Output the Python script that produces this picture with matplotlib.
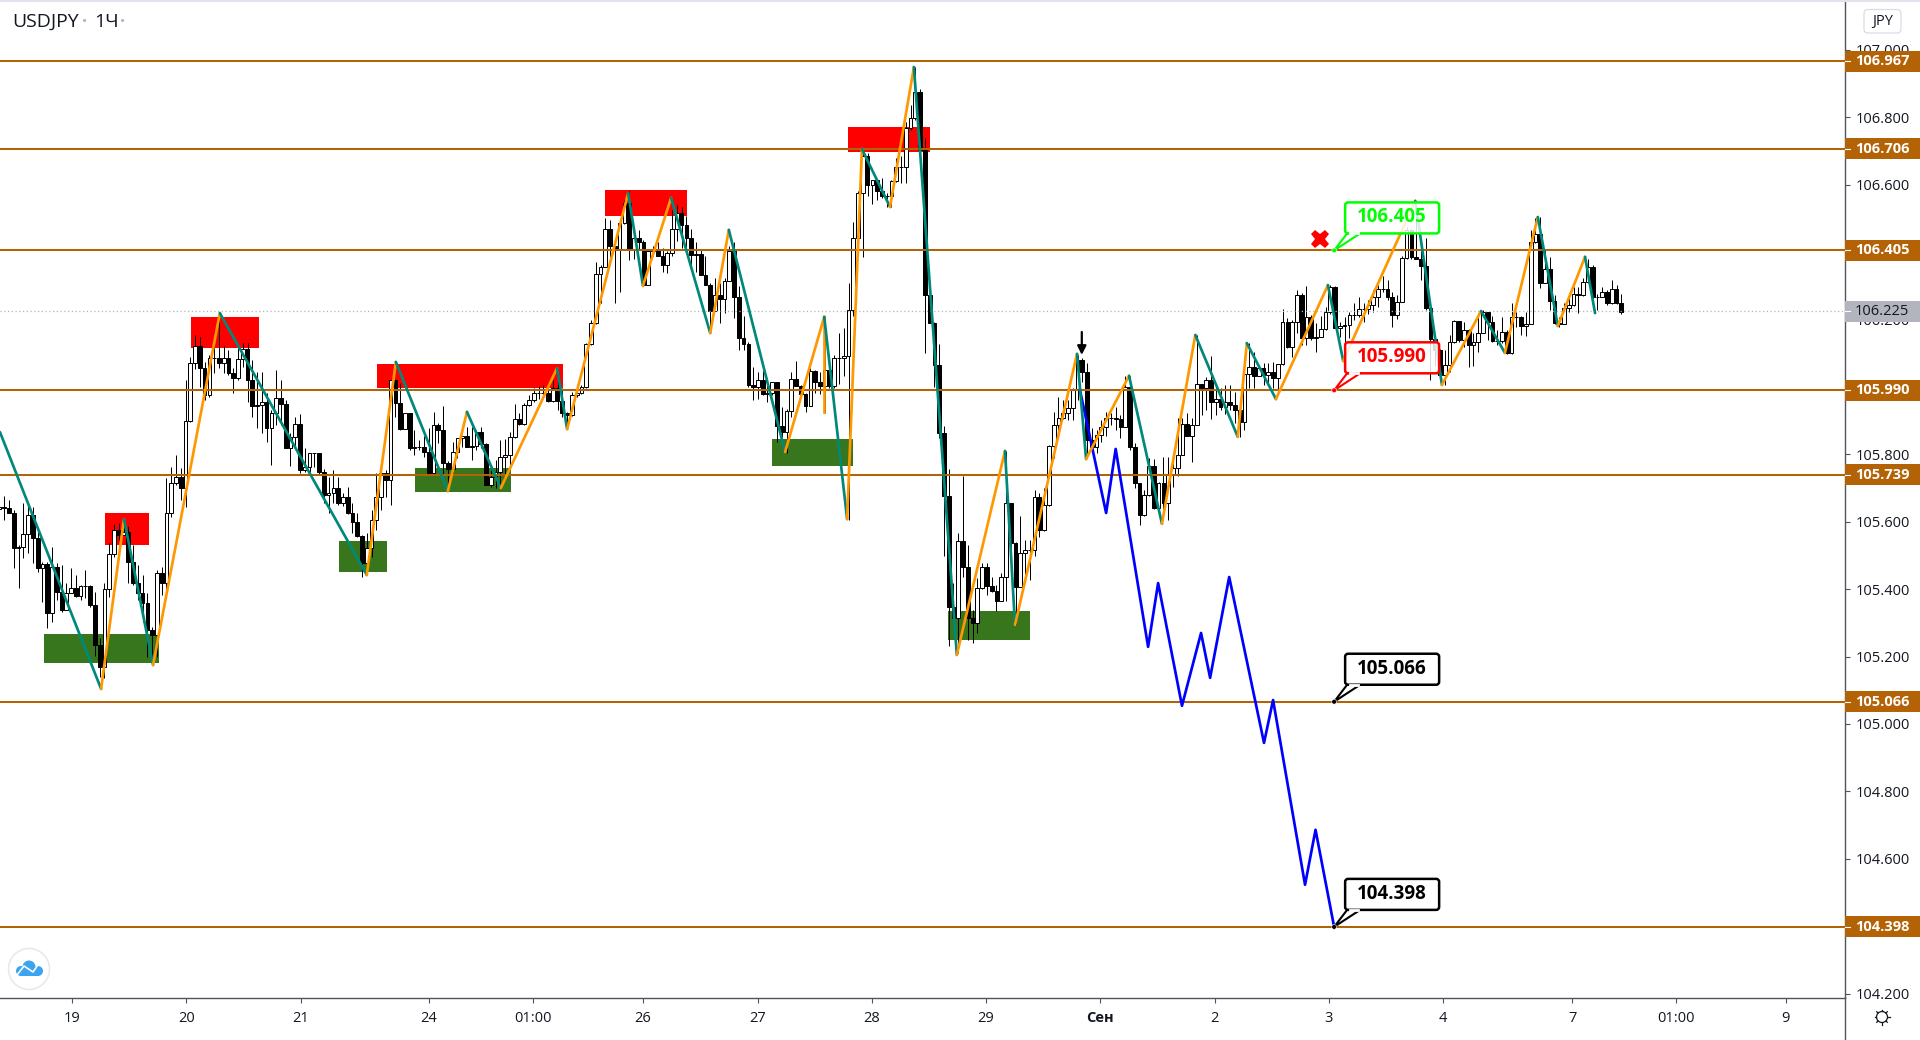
"""USDJPY 1H chart with zigzag, supply/demand zones and a projected path."""
import matplotlib
matplotlib.use('Agg')
import matplotlib.pyplot as plt
from matplotlib.patches import Circle, FancyBboxPatch, Polygon, Rectangle

plt.rcParams['font.family'] = ['Open Sans', 'DejaVu Sans']

# Candles (hourly); each open is the previous close
first_open = 105.637
first_bar = -15.2
closes = [
    105.645, 105.640, 105.625, 105.523, 105.526, 105.563, 105.620, 105.551, 105.464, 105.474,
    105.330, 105.467, 105.393, 105.338, 105.388, 105.403, 105.381, 105.409, 105.408, 105.353,
    105.234, 105.170, 105.400, 105.504, 105.576, 105.561, 105.571, 105.482, 105.417, 105.388,
    105.358, 105.279, 105.264, 105.447, 105.417, 105.625, 105.714, 105.732, 105.701, 105.900,
    106.070, 106.120, 106.055, 105.976, 106.085, 106.085, 106.070, 106.085, 106.040, 106.026,
    106.082, 106.112, 106.021, 105.942, 105.945, 105.954, 105.877, 105.922, 105.966, 105.949,
    105.820, 105.851, 105.889, 105.754, 105.763, 105.803, 105.803, 105.749, 105.679, 105.684,
    105.699, 105.657, 105.673, 105.625, 105.600, 105.558, 105.477, 105.521, 105.605, 105.674,
    105.744, 105.724, 106.021, 105.951, 105.875, 105.922, 105.818, 105.823, 105.823, 105.808,
    105.744, 105.887, 105.872, 105.773, 105.756, 105.808, 105.848, 105.855, 105.823, 105.826,
    105.865, 105.831, 105.709, 105.734, 105.749, 105.791, 105.798, 105.851, 105.904, 105.890,
    105.946, 105.961, 105.981, 105.983, 105.983, 105.959, 105.996, 105.959, 105.922, 105.917,
    105.976, 105.983, 105.999, 106.126, 106.189, 106.335, 106.357, 106.468, 106.419, 106.407,
    106.486, 106.545, 106.409, 106.441, 106.431, 106.303, 106.402, 106.407, 106.389, 106.362,
    106.397, 106.468, 106.515, 106.481, 106.441, 106.392, 106.393, 106.332, 106.303, 106.224,
    106.273, 106.261, 106.315, 106.402, 106.268, 106.145, 106.128, 106.006, 105.999, 106.021,
    105.979, 105.981, 106.014, 105.884, 105.867, 105.929, 106.023, 106.003, 105.979, 105.942,
    106.047, 106.016, 106.003, 106.050, 106.003, 106.085, 106.085, 106.092, 106.228, 106.441,
    106.575, 106.684, 106.599, 106.614, 106.580, 106.565, 106.565, 106.611, 106.654, 106.654,
    106.768, 106.797, 106.876, 106.703, 106.273, 106.189, 106.065, 105.863, 105.675, 105.348,
    105.314, 105.543, 105.467, 105.314, 105.299, 105.403, 105.465, 105.408, 105.396, 105.366,
    105.436, 105.655, 105.538, 105.406, 105.507, 105.515, 105.515, 105.673, 105.576, 105.650,
    105.825, 105.886, 105.907, 105.922, 105.937, 105.991, 106.080, 106.045, 105.843, 105.823,
    105.857, 105.882, 105.907, 105.909, 105.905, 105.882, 106.001, 105.823, 105.714, 105.620,
    105.678, 105.766, 105.640, 105.714, 105.655, 105.739, 105.759, 105.798, 105.889, 105.855,
    105.887, 106.008, 105.996, 106.021, 105.956, 105.963, 105.940, 105.956, 105.946, 105.932,
    105.897, 106.037, 106.060, 106.033, 106.057, 106.035, 106.045, 106.026, 106.067, 106.194,
    106.118, 106.192, 106.273, 106.144, 106.207, 106.144, 106.147, 106.171, 106.223, 106.297,
    106.176, 106.180, 106.183, 106.213, 106.213, 106.231, 106.230, 106.243, 106.266, 106.292,
    106.292, 106.268, 106.213, 106.253, 106.383, 106.465, 106.386, 106.381, 106.358, 106.233,
    106.142, 106.109, 106.035, 106.065, 106.134, 106.195, 106.139, 106.169, 106.124, 106.134,
    106.159, 106.223, 106.193, 106.137, 106.137, 106.164, 106.102, 106.206, 106.208, 106.180,
    106.188, 106.429, 106.455, 106.309, 106.349, 106.256, 106.191, 106.188, 106.233, 106.243,
    106.277, 106.272, 106.312, 106.357, 106.268, 106.268, 106.282, 106.248, 106.292, 106.250,
    106.223,
]
highs = [
    105.679, 105.677, 105.665, 105.635, 105.531, 105.657, 105.660, 105.643, 105.571, 105.482,
    105.482, 105.524, 105.477, 105.472, 105.417, 105.462, 105.442, 105.412, 105.457, 105.412,
    105.393, 105.254, 105.417, 105.536, 105.593, 105.595, 105.605, 105.586, 105.531, 105.472,
    105.442, 105.388, 105.289, 105.457, 105.467, 105.729, 105.763, 105.798, 105.759, 106.021,
    106.090, 106.154, 106.149, 106.075, 106.095, 106.129, 106.218, 106.120, 106.110, 106.055,
    106.115, 106.131, 106.129, 106.080, 106.045, 106.045, 105.981, 105.932, 106.050, 106.021,
    105.961, 105.862, 105.912, 105.920, 105.818, 105.803, 105.805, 105.803, 105.757, 105.734,
    105.754, 105.734, 105.684, 105.702, 105.655, 105.625, 105.561, 105.566, 105.635, 105.744,
    105.754, 105.754, 106.021, 106.021, 106.011, 105.922, 105.877, 105.872, 105.843, 105.853,
    105.877, 105.927, 105.892, 105.942, 105.780, 105.838, 105.848, 105.855, 105.882, 105.882,
    105.872, 105.882, 105.833, 105.754, 105.783, 105.843, 105.845, 105.867, 105.949, 105.922,
    105.951, 105.976, 105.996, 106.003, 106.006, 106.011, 106.021, 106.045, 105.996, 105.927,
    105.986, 106.001, 106.006, 106.129, 106.199, 106.372, 106.362, 106.501, 106.496, 106.417,
    106.491, 106.555, 106.580, 106.466, 106.466, 106.436, 106.407, 106.417, 106.431, 106.412,
    106.402, 106.525, 106.540, 106.535, 106.506, 106.468, 106.431, 106.407, 106.389, 106.308,
    106.323, 106.308, 106.323, 106.417, 106.431, 106.300, 106.209, 106.134, 106.060, 106.045,
    106.048, 106.006, 106.016, 106.016, 105.940, 105.935, 106.045, 106.077, 106.006, 105.981,
    106.055, 106.050, 106.045, 106.209, 106.055, 106.095, 106.159, 106.174, 106.308, 106.489,
    106.580, 106.706, 106.693, 106.614, 106.604, 106.619, 106.575, 106.614, 106.679, 106.684,
    106.787, 106.837, 106.949, 106.883, 106.738, 106.275, 106.192, 106.127, 105.883, 105.756,
    105.418, 105.566, 105.736, 105.531, 105.339, 105.433, 105.477, 105.477, 105.437, 105.413,
    105.447, 105.810, 105.655, 105.539, 105.616, 105.546, 105.546, 105.695, 105.685, 105.700,
    105.828, 105.925, 105.970, 105.962, 105.962, 105.996, 106.095, 106.085, 106.072, 105.877,
    105.872, 105.902, 105.927, 105.922, 105.941, 105.917, 106.031, 106.031, 105.833, 105.714,
    105.695, 105.789, 105.786, 105.719, 105.793, 105.793, 105.798, 105.907, 105.907, 105.922,
    105.907, 106.154, 106.006, 106.029, 106.092, 106.001, 105.996, 106.006, 106.006, 105.986,
    105.944, 106.055, 106.129, 106.105, 106.065, 106.070, 106.072, 106.075, 106.067, 106.230,
    106.204, 106.199, 106.288, 106.278, 106.300, 106.213, 106.189, 106.209, 106.238, 106.302,
    106.299, 106.193, 106.208, 106.223, 106.248, 106.266, 106.248, 106.258, 106.287, 106.302,
    106.329, 106.317, 106.282, 106.272, 106.388, 106.475, 106.470, 106.549, 106.436, 106.441,
    106.248, 106.149, 106.114, 106.109, 106.154, 106.198, 106.196, 106.193, 106.171, 106.159,
    106.218, 106.228, 106.223, 106.210, 106.169, 106.208, 106.169, 106.248, 106.223, 106.210,
    106.223, 106.465, 106.500, 106.505, 106.406, 106.386, 106.272, 106.208, 106.248, 106.263,
    106.297, 106.297, 106.322, 106.381, 106.361, 106.276, 106.297, 106.287, 106.317, 106.302,
    106.277,
]
lows = [
    105.569, 105.605, 105.625, 105.462, 105.403, 105.492, 105.506, 105.477, 105.452, 105.363,
    105.284, 105.304, 105.368, 105.333, 105.338, 105.398, 105.378, 105.368, 105.373, 105.348,
    105.202, 105.140, 105.135, 105.378, 105.496, 105.546, 105.561, 105.417, 105.412, 105.368,
    105.304, 105.200, 105.175, 105.200, 105.383, 105.383, 105.615, 105.709, 105.665, 105.645,
    105.897, 106.053, 106.001, 105.961, 105.969, 106.040, 106.055, 106.042, 106.035, 105.981,
    106.021, 106.060, 105.956, 105.912, 105.879, 105.862, 105.838, 105.768, 105.887, 105.887,
    105.818, 105.766, 105.818, 105.744, 105.749, 105.749, 105.763, 105.739, 105.655, 105.625,
    105.655, 105.650, 105.648, 105.622, 105.566, 105.556, 105.437, 105.442, 105.494, 105.576,
    105.635, 105.674, 105.650, 105.912, 105.872, 105.877, 105.813, 105.798, 105.813, 105.793,
    105.744, 105.744, 105.833, 105.739, 105.694, 105.744, 105.788, 105.823, 105.823, 105.783,
    105.813, 105.818, 105.709, 105.704, 105.699, 105.704, 105.724, 105.754, 105.848, 105.887,
    105.887, 105.942, 105.956, 105.963, 105.976, 105.956, 105.956, 105.932, 105.912, 105.877,
    105.915, 105.971, 105.979, 105.996, 106.124, 106.187, 106.248, 106.357, 106.385, 106.250,
    106.283, 106.484, 106.377, 106.379, 106.407, 106.298, 106.339, 106.387, 106.387, 106.342,
    106.339, 106.389, 106.434, 106.412, 106.407, 106.362, 106.342, 106.332, 106.303, 106.159,
    106.224, 106.189, 106.219, 106.313, 106.204, 106.110, 106.110, 105.999, 105.961, 105.963,
    105.976, 105.956, 105.976, 105.838, 105.838, 105.803, 105.912, 106.003, 105.966, 105.927,
    105.942, 105.983, 105.979, 105.924, 105.996, 105.996, 106.009, 106.033, 105.605, 106.209,
    106.412, 106.385, 106.567, 106.543, 106.555, 106.560, 106.535, 106.533, 106.609, 106.604,
    106.604, 106.763, 106.792, 106.698, 106.100, 106.189, 106.001, 105.848, 105.497, 105.230,
    105.314, 105.210, 105.437, 105.250, 105.240, 105.271, 105.400, 105.383, 105.393, 105.334,
    105.366, 105.366, 105.433, 105.294, 105.406, 105.428, 105.428, 105.497, 105.556, 105.574,
    105.647, 105.789, 105.873, 105.904, 105.902, 105.902, 105.961, 106.016, 105.803, 105.818,
    105.803, 105.838, 105.854, 105.887, 105.872, 105.848, 105.882, 105.813, 105.700, 105.591,
    105.616, 105.677, 105.637, 105.625, 105.606, 105.606, 105.703, 105.737, 105.801, 105.853,
    105.778, 105.887, 105.917, 105.932, 105.905, 105.917, 105.932, 105.920, 105.932, 105.892,
    105.851, 105.872, 105.996, 105.996, 106.031, 106.006, 106.006, 105.996, 105.976, 106.065,
    106.115, 106.088, 106.159, 106.124, 106.124, 106.139, 106.105, 106.169, 106.169, 106.216,
    106.174, 106.149, 106.080, 106.144, 106.198, 106.206, 106.193, 106.216, 106.223, 106.238,
    106.282, 106.258, 106.178, 106.203, 106.253, 106.381, 106.381, 106.379, 106.317, 106.228,
    106.020, 106.062, 106.030, 106.005, 106.045, 106.129, 106.134, 106.119, 106.058, 106.063,
    106.104, 106.177, 106.139, 106.134, 106.124, 106.131, 106.099, 106.099, 106.178, 106.154,
    106.152, 106.186, 106.426, 106.295, 106.307, 106.228, 106.188, 106.178, 106.193, 106.223,
    106.241, 106.218, 106.269, 106.309, 106.263, 106.228, 106.269, 106.243, 106.246, 106.246,
    106.216,
]

# Zigzag pivots: segments alternate teal (down) and orange (up)
zigzag_bars = [-15.1, 6.1, 10.9, 17.0, 31.0, 61.8, 67.9, 78.8, 82.8, 89.9, 101.7, 103.8,
               116.6, 119.7, 125.6, 133.8, 137.7, 149.5, 157.7, 162.5, 165.6, 171.5, 176.5,
               185.5, 195.6, 197.7, 210.7, 212.6, 221.6, 228.5, 235.5, 244.4, 246.3, 252.4,
               263.3, 266.5, 281.6, 287.2, 295.4, 300.4, 307.3, 311.5, 317.2, 319.3]
zigzag_prices = [105.866, 105.104, 105.608, 105.175, 106.219, 105.442, 106.074, 105.691,
                 105.926, 105.700, 106.056, 105.875, 106.575, 106.300, 106.561, 106.160,
                 106.466, 105.807, 106.208, 105.608, 106.706, 106.534, 106.949, 105.205,
                 105.810, 105.294, 106.098, 105.786, 106.033, 105.594, 106.154, 105.852,
                 106.130, 105.964, 106.302, 106.077, 106.552, 106.006, 106.225, 106.101,
                 106.504, 106.181, 106.386, 106.219]
spur_bars = [157.7, 157.7]
spur_prices = [106.208, 105.926]

# Projected path
path_bars = [211.3, 216.8, 218.8, 225.6, 227.7, 232.7, 236.7, 238.6, 242.6, 249.9, 251.8,
             258.5, 260.7, 264.6]
path_prices = [105.991, 105.626, 105.816, 105.229, 105.418, 105.054, 105.270, 105.137,
               105.436, 104.944, 105.071, 104.523, 104.686, 104.398]

# Zones as (first bar, last bar, low, high)
red_zones = [(6.9, 16.1, 105.531, 105.626), (24.9, 39.2, 106.116, 106.208),
             (63.9, 102.9, 105.997, 106.068), (111.7, 128.9, 106.507, 106.584),
             (162.7, 179.9, 106.697, 106.771)]
green_zones = [(-5.9, 18.2, 105.181, 105.267), (56.0, 66.0, 105.451, 105.543),
               (71.9, 92.0, 105.688, 105.760), (146.8, 163.8, 105.766, 105.846),
               (183.6, 200.8, 105.249, 105.335)]

levels = [106.967, 106.706, 106.405, 105.990, 105.739, 105.066, 104.398]
last_price = 106.225

price_ticks = [107.0, 106.8, 106.6, 106.4, 106.2, 106.0, 105.8, 105.6, 105.4, 105.2,
               105.0, 104.8, 104.6, 104.4, 104.2]
time_ticks = [0, 24, 48, 74.8, 96.6, 119.7, 143.8, 167.7, 191.6, 215.5, 239.6, 263.5,
              287.4, 314.5, 336.3, 359.3]
time_labels = ['19', '20', '21', '24', '01:00', '26', '27', '28', '29', 'Сен', '2', '3',
               '4', '7', '01:00', '9']

# Callouts as (bar, price, colour)
callouts = [(264.6, 106.405, '#00ff00'), (264.6, 105.990, '#ff0000'),
            (264.6, 105.066, '#000000'), (264.6, 104.398, '#000000')]

BRONZE = '#b36205'
TEAL = '#00897b'
ORANGE = '#ff9800'
AXIS = '#50535e'
TEXT = '#131722'


def draw_candles(ax):
    opens = [first_open] + closes[:-1]
    xs = [first_bar + i for i in range(len(closes))]
    ax.vlines(xs, lows, highs, color='black', lw=0.72, zorder=2)
    for x, o, c in zip(xs, opens, closes):
        face = 'white' if c >= o else 'black'
        ax.bar(x, abs(c - o), bottom=min(o, c), width=0.78, facecolor=face,
               edgecolor='black', lw=0.72, zorder=2.1)


def draw_zones(ax, zones, color):
    for x0, x1, low, high in zones:
        ax.add_patch(Rectangle((x0, low), x1 - x0, high - low, facecolor=color,
                               edgecolor='none', zorder=1))


def draw_callout(ax, ui, bar, price, color):
    px, py = ax.transData.transform((bar, price))
    py = 1040 - py
    left, top = px + 11, py - 48
    bottom = top + 31
    ui.add_patch(Polygon([(px, py), (left + 2, bottom), (left + 15, bottom)], closed=True,
                         facecolor='white', edgecolor=color, lw=1.5, zorder=6))
    ui.add_patch(FancyBboxPatch((left, top), 94, 31, boxstyle='round,pad=0,rounding_size=3',
                                facecolor=(1, 1, 1, 0.85), edgecolor=color, lw=1.8, zorder=6))
    ui.plot([left + 5, left + 13], [bottom, bottom], color='white', lw=2.0, zorder=6.1)
    ui.add_patch(Circle((px, py), 2.4, facecolor=color, edgecolor='white', lw=0.4, zorder=6.2))
    ui.text(left + 47, top + 15, f'{price:.3f}', color=color, fontsize=13.5, fontweight='bold',
            ha='center', va='center', zorder=6.2)


def draw_tag(ax, ui, price, face, color, weight):
    py = 1040 - ax.transData.transform((0, price))[1]
    ui.add_patch(Rectangle((1845, py - 10.5), 75, 21, facecolor=face, edgecolor='none', zorder=6))
    ui.plot([1845, 1850], [py, py], color='white', lw=0.8, zorder=6.1)
    ui.text(1882, py, f'{price:.3f}', color=color, fontsize=10.5, fontweight=weight,
            ha='center', va='center', zorder=6.2)


def draw_logo(ui):
    ui.add_patch(Circle((29, 969), 20.5, facecolor='white', edgecolor='#e8e8e8', lw=1.1, zorder=6))
    blue = '#3ba3f0'
    for cx, cy, r in [(29, 967, 6.5), (21, 971, 5), (38, 971, 5)]:
        ui.add_patch(Circle((cx, cy), r, facecolor=blue, edgecolor='none', zorder=6.1))
    ui.add_patch(Rectangle((20, 970), 19, 6, facecolor=blue, edgecolor='none', zorder=6.1))
    ui.plot([17, 24, 33, 40], [975, 966, 972, 962], color='white', lw=1.2, zorder=6.2)


def draw_gear(ui):
    ui.add_patch(Circle((1882, 1017), 5.5, facecolor='white', edgecolor=TEXT, lw=0.9, zorder=6))
    dx = [7.5, 5.3, 0, -5.3, -7.5, -5.3, 0, 5.3]
    dy = [0, 5.3, 7.5, 5.3, 0, -5.3, -7.5, -5.3]
    for a, b in zip(dx, dy):
        ui.plot([1882 + a * 0.75, 1882 + a], [1017 + b * 0.75, 1017 + b], color=TEXT, lw=0.9, zorder=6)


fig = plt.figure(figsize=(19.2, 10.4), dpi=100, facecolor='white')
ax = fig.add_axes([0, 42 / 1040, 1845 / 1920, 998 / 1040])
ax.set_xlim(-15.094, 371.7)
ax.set_ylim(104.187, 107.148)

draw_zones(ax, red_zones, '#ff0000')
draw_zones(ax, green_zones, '#38761d')
draw_candles(ax)
for level in levels:
    ax.axhline(level, color=BRONZE, lw=1.45, zorder=3)
ax.axhline(last_price, color='#b2b5be', lw=0.9, ls=(0, (1, 2)), zorder=3)

ax.plot(path_bars, path_prices, color='#0000ff', lw=1.95, zorder=4)
ax.plot(spur_bars, spur_prices, color=ORANGE, lw=1.95, zorder=5)
for i in range(len(zigzag_bars) - 1):
    ax.plot(zigzag_bars[i:i + 2], zigzag_prices[i:i + 2], color=TEAL if i % 2 == 0 else ORANGE,
            lw=1.95, zorder=5, solid_capstyle='round')

ax.plot([261.6], [106.44], marker='X', color='#ff0000', markersize=13, markeredgewidth=0, zorder=6)
ax.annotate('', xy=(211.7, 106.095), xytext=(211.7, 106.163),
            arrowprops=dict(arrowstyle='-|>', color='black', lw=1.6, mutation_scale=13,
                            shrinkA=0, shrinkB=0), zorder=6)

for side in ['top', 'left']:
    ax.spines[side].set_visible(False)
for side in ['right', 'bottom']:
    ax.spines[side].set_color(AXIS)
    ax.spines[side].set_linewidth(1.0)
ax.yaxis.tick_right()
ax.set_yticks(price_ticks)
ax.set_yticklabels([f'{p:.3f}' for p in price_ticks], fontsize=10.5, color=TEXT)
ax.set_xticks(time_ticks)
ax.set_xticklabels(time_labels, fontsize=10.5, color=TEXT)
ax.tick_params(axis='y', length=3.6, width=0.8, color=AXIS, pad=4)
ax.tick_params(axis='x', length=3.6, width=0.8, color=AXIS, pad=5.5)
for label in ax.get_xticklabels():
    if label.get_text() == 'Сен':
        label.set_fontweight('bold')

# Overlay in pixels for the platform furniture around the chart
ui = fig.add_axes([0, 0, 1, 1], facecolor='none')
ui.set_xlim(0, 1920)
ui.set_ylim(1040, 0)
ui.axis('off')
ui.add_patch(Rectangle((1846, 998.5), 74, 41.5, facecolor='white', edgecolor='none', zorder=5))
ui.plot([1845, 1845], [998, 1040], color=AXIS, lw=1.0, zorder=5.5)
ui.plot([0, 1920], [0.8, 0.8], color='#e0e3eb', lw=1.5, zorder=5.5)

ui.text(12, 22, 'USDJPY', fontsize=14, color=TEXT, va='center')
ui.text(85, 22, '·', fontsize=13, color='#b2b5be', va='center', ha='center', fontweight='bold')
ui.text(94, 22, '1Ч', fontsize=14, color=TEXT, va='center')
ui.text(123, 22, '·', fontsize=13, color='#b2b5be', va='center', ha='center', fontweight='bold')

ui.add_patch(FancyBboxPatch((1864, 9.5), 37, 23.5, boxstyle='round,pad=0,rounding_size=4',
                            facecolor='white', edgecolor='#d9dce5', lw=0.9, zorder=6))
ui.text(1882.5, 21, 'JPY', fontsize=10.5, color=TEXT, ha='center', va='center', zorder=6.1)

for level in levels:
    draw_tag(ax, ui, level, BRONZE, 'white', 'bold')
draw_tag(ax, ui, last_price, '#b2b5be', TEXT, 'normal')

for bar, price, color in callouts:
    draw_callout(ax, ui, bar, price, color)

draw_logo(ui)
draw_gear(ui)

fig.savefig('out.png', dpi=100)
